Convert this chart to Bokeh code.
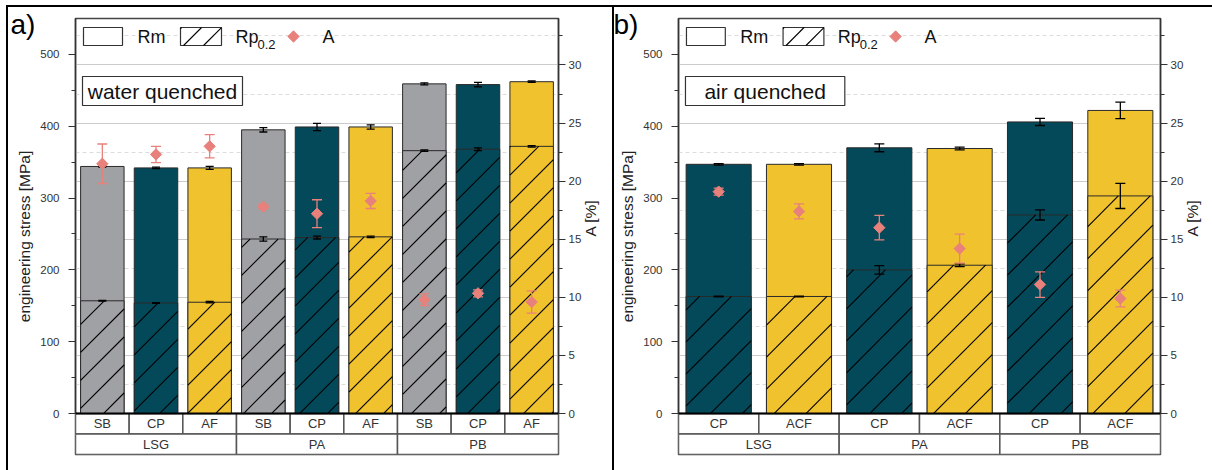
import math
import numpy as np
from bokeh.plotting import figure
from bokeh.models import Range1d, LinearAxis, FixedTicker, Grid, Span
from bokeh.layouts import row
from bokeh.embed import file_html
from bokeh.resources import INLINE
from bokeh.core.properties import value

FONT = "Liberation Sans"

# ---------------- data ----------------
groups = ["LSG", "PA", "PB"]

wq_subs = ["SB", "CP", "AF"]
wq_rm = [344, 342, 342, 395, 399, 399, 459, 458, 462]
wq_rm_err = [1, 1, 2, 3, 5, 3, 1.5, 3, 1]
wq_rp = [157, 154, 155, 243, 245, 246, 366, 368, 372]
wq_rp_err = [0.5, 0.5, 1, 3, 2, 1, 1, 2, 1]
wq_a = [21.5, 22.3, 23.0, 17.8, 17.2, 18.3, 9.8, 10.35, 9.6]
wq_a_err = [1.7, 0.7, 1.0, 0.2, 1.2, 0.65, 0.5, 0.3, 0.95]

aq_subs = ["CP", "ACF"]
aq_rm = [347, 347, 370, 369, 406, 422]
aq_rm_err = [1, 1, 5.5, 2, 5, 11.5]
aq_rp = [163, 163, 200, 206.5, 276.5, 303]
aq_rp_err = [0.5, 0.5, 6, 2, 7, 17.5]
aq_a = [19.1, 17.4, 16.0, 14.2, 11.1, 9.9]
aq_a_err = [0.3, 0.65, 1.05, 1.25, 1.1, 0.72]

left_ticks = [0, 100, 200, 300, 400, 500]
left_minor = [50, 150, 250, 350, 450]
right_ticks = [0, 5, 10, 15, 20, 25, 30]
right_minor = [2.5, 7.5, 12.5, 17.5, 22.5, 27.5, 32.5]

sub_colors = {"SB": "#a0a1a5", "CP": "#03495a", "AF": "#f0c22e", "ACF": "#f0c22e"}
SALMON = "#e8817b"

# ---------------- layout constants ----------------
Y0, Y1 = -57.0, 550.0
A_TOP = 34.0
A0 = Y0 * A_TOP / Y1
H = 470
FT, FB = 18, 454


def style_axis(ax):
    ax.axis_line_color = "#333333"
    ax.axis_line_width = 1.5
    ax.major_tick_line_color = "#333333"
    ax.major_tick_line_width = 1.2
    ax.minor_tick_line_color = "#333333"
    ax.major_tick_in = 0
    ax.major_tick_out = 7
    ax.minor_tick_in = 0
    ax.minor_tick_out = 4
    ax.major_label_text_font = FONT
    ax.major_label_text_font_size = "11.5px"
    ax.major_label_text_color = "#333333"
    ax.axis_label_text_font = FONT
    ax.axis_label_text_font_size = "15.5px"
    ax.axis_label_text_font_style = "normal"
    ax.axis_label_text_color = "#222222"


def hatch_lines(lefts, rights, bottoms, tops, slot, k, s):
    """45 degree '/' hatch lines (in screen space) clipped to rectangles in data space."""
    x0s, y0s, x1s, y1s = [], [], [], []
    for L, R, B, T in zip(lefts, rights, bottoms, tops):
        uL, uR, vB, vT = L * slot, R * slot, B * k, T * k
        c = math.ceil((vB - uR) / s) * s
        while c <= vT - uL:
            ua = max(uL, vB - c)
            ub = min(uR, vT - c)
            if ub > ua + 0.5:
                x0s.append(ua / slot)
                y0s.append((ua + c) / k)
                x1s.append(ub / slot)
                y1s.append((ub + c) / k)
            c += s
    return x0s, y0s, x1s, y1s


def make_panel(tag, note, subs, rm, rm_err, rp, rp_err, a, a_err, width, fl, fr, cap,
               hs, styles):
    m = len(subs)
    n = len(groups) * m
    xs = [i + 0.5 for i in range(n)]
    sub_all = subs * len(groups)
    colors = [sub_colors[s] for s in sub_all]

    p = figure(width=width, height=H, x_range=Range1d(0, n), y_range=Range1d(Y0, Y1),
               x_axis_location=None, output_backend="svg", toolbar_location=None,
               min_border_left=fl, min_border_right=fr, min_border_top=FT,
               min_border_bottom=H - FB, styles=styles)
    p.border_fill_color = None
    p.background_fill_color = "white"
    p.extra_y_ranges = {"A": Range1d(A0, A_TOP)}
    p.outline_line_color = "#444444"
    p.outline_line_width = 1.5
    p.xgrid.visible = False
    p.ygrid.visible = False

    # panel tag, drawn by the title placed over the frame's upper left corner
    p.title.text = " \n" + tag
    p.title.text_font = FONT
    p.title.text_font_size = "28px"
    p.title.text_font_style = "normal"
    p.title.text_color = "black"
    p.title.text_line_height = 0.8
    p.title.align = "left"
    p.title.vertical_align = "bottom"
    p.title.standoff = -44
    p.title.offset = -65

    fw = width - fl - fr
    slot = fw / n
    k = (FB - FT) / (Y1 - Y0)

    def X(px):
        return (px - fl) / slot

    def Y(py):
        return (FB - py) / k + Y0

    grid = Grid(dimension=1, y_range_name="A",
                ticker=FixedTicker(ticks=right_ticks[1:], minor_ticks=right_minor),
                grid_line_color="#cccccc", grid_line_width=1,
                minor_grid_line_color="#dcdcdc", minor_grid_line_dash="4 3")
    p.add_layout(grid)

    ya = p.yaxis[0]
    ya.ticker = FixedTicker(ticks=left_ticks, minor_ticks=left_minor)
    style_axis(ya)
    ya.bounds = (0, Y1)
    ya.major_label_standoff = 9
    ya.axis_label = "engineering stress [MPa]"
    ya.axis_label_standoff = 4

    ra = LinearAxis(y_range_name="A", ticker=FixedTicker(ticks=right_ticks, minor_ticks=right_minor))
    style_axis(ra)
    ra.bounds = (0, A_TOP)
    ra.major_label_standoff = 3
    ra.axis_label = "A [%]"
    ra.axis_label_standoff = 6
    try:
        ra.axis_label_orientation = np.pi / 2
    except Exception:
        pass
    p.add_layout(ra, "right")

    # category table below the axis
    r1 = -Y0 / 2.0
    p.rect(x=xs, y=[-r1 / 2] * n, width=1, height=r1, fill_color="white",
           line_color="#555555", line_width=1.5)
    p.text(x=xs, y=[-r1 / 2] * n, text=sub_all, text_align="center", text_baseline="middle",
           text_font=value(FONT), text_font_size="13px", text_color="#333333")
    gx = [g * m + m / 2 for g in range(len(groups))]
    p.rect(x=gx, y=[-1.5 * r1] * len(groups), width=m, height=r1, fill_color="white",
           line_color="#555555", line_width=1.5)
    p.text(x=gx, y=[-1.5 * r1] * len(groups), text=groups, text_align="center",
           text_baseline="middle", text_font=value(FONT), text_font_size="13px",
           text_color="#333333")

    # bars
    bw = 0.81
    p.vbar(x=xs, top=rm, bottom=0, width=bw, fill_color=colors, line_color="#2a2a2a",
           line_width=1)
    p.vbar(x=xs, top=rp, bottom=0, width=bw, fill_color=colors, line_color="#2a2a2a",
           line_width=1)
    hx0, hy0, hx1, hy1 = hatch_lines([x - bw / 2 for x in xs], [x + bw / 2 for x in xs],
                                     [0] * n, rp, slot, k, hs)
    p.segment(x0=hx0, y0=hy0, x1=hx1, y1=hy1, line_color="black", line_width=1.1)

    # error bars for Rm and Rp
    for vals, errs in ((rm, rm_err), (rp, rp_err)):
        hi = [v + e for v, e in zip(vals, errs)]
        lo = [v - e for v, e in zip(vals, errs)]
        p.segment(x0=xs, y0=lo, x1=xs, y1=hi, line_color="black", line_width=1.3)
        p.scatter(x=xs, y=hi, marker="dash", size=cap, line_color="black", line_width=1.3)
        p.scatter(x=xs, y=lo, marker="dash", size=cap, line_color="black", line_width=1.3)

    # elongation A
    ahi = [v + e for v, e in zip(a, a_err)]
    alo = [v - e for v, e in zip(a, a_err)]
    p.segment(x0=xs, y0=alo, x1=xs, y1=ahi, line_color=SALMON, line_width=1.3, y_range_name="A")
    p.scatter(x=xs, y=ahi, marker="dash", size=10, line_color=SALMON, line_width=1.3, y_range_name="A")
    p.scatter(x=xs, y=alo, marker="dash", size=10, line_color=SALMON, line_width=1.3, y_range_name="A")
    p.scatter(x=xs, y=a, marker="square", angle=np.pi / 4, size=8, fill_color=SALMON,
              line_color=SALMON, y_range_name="A")

    p.add_layout(Span(location=0, dimension="width", line_color="black", line_width=2))

    # legend
    ly0, ly1, lyc = 27, 45, 36
    p.quad(left=[X(fl + 8)], right=[X(fl + 47)], top=[Y(ly0)], bottom=[Y(ly1)],
           fill_color="white", line_color="#333333", line_width=1.2)
    p.text(x=[X(fl + 62)], y=[Y(lyc)], text=["Rm"], text_baseline="middle",
           text_font=value(FONT), text_font_size="18px", text_color="#111111")
    p.quad(left=[X(fl + 105)], right=[X(fl + 146)], top=[Y(ly0)], bottom=[Y(ly1)],
           fill_color="white", line_color="#333333", line_width=1.2)
    lx0, ly0_, lx1, ly1_ = hatch_lines([X(fl + 105)], [X(fl + 146)], [Y(ly1)], [Y(ly0)],
                                       slot, k, 20)
    p.segment(x0=lx0, y0=ly0_, x1=lx1, y1=ly1_, line_color="black", line_width=1.1)
    p.text(x=[X(fl + 160)], y=[Y(lyc)], text=["Rp"], text_baseline="middle",
           text_font=value(FONT), text_font_size="18px", text_color="#111111")
    p.text(x=[X(fl + 182)], y=[Y(lyc + 8)], text=["0.2"], text_baseline="middle",
           text_font=value(FONT), text_font_size="13px", text_color="#111111")
    p.scatter(x=[X(fl + 218)], y=[Y(lyc)], marker="square", angle=np.pi / 4, size=8,
              fill_color=SALMON, line_color=SALMON)
    p.text(x=[X(fl + 247)], y=[Y(lyc)], text=["A"], text_baseline="middle",
           text_font=value(FONT), text_font_size="18px", text_color="#111111")

    # condition box
    p.quad(left=[X(fl + 7)], right=[X(fl + 167)], top=[Y(76)], bottom=[Y(105)],
           fill_color="white", line_color="#333333", line_width=1.2)
    p.text(x=[X(fl + 87)], y=[Y(90.5)], text=[note], text_align="center", text_baseline="middle",
           text_font=value(FONT), text_font_size="21px", text_color="#111111")
    return p


lines_a = {
    "background-image": "linear-gradient(#000,#000), linear-gradient(#000,#000)",
    "background-size": "2px 470px, 606px 2px",
    "background-position": "6px 5px, 6px 5px",
    "background-repeat": "no-repeat",
    "background-color": "white",
}
lines_b = {
    "background-image": "linear-gradient(#000,#000), linear-gradient(#000,#000)",
    "background-size": "2px 470px, 600px 2px",
    "background-position": "0px 5px, 0px 5px",
    "background-repeat": "no-repeat",
    "background-color": "white",
}

pa = make_panel("a)", "water quenched", wq_subs, wq_rm, wq_rm_err, wq_rp, wq_rp_err,
                wq_a, wq_a_err, 612, 75, 54, 8, 28, lines_a)
pb = make_panel("b)", "air quenched", aq_subs, aq_rm, aq_rm_err, aq_rp, aq_rp_err,
                aq_a, aq_a_err, 600, 66, 50, 10, 32, lines_b)

layout = row(pa, pb)
open("out.html", "w").write(file_html(layout, INLINE))
